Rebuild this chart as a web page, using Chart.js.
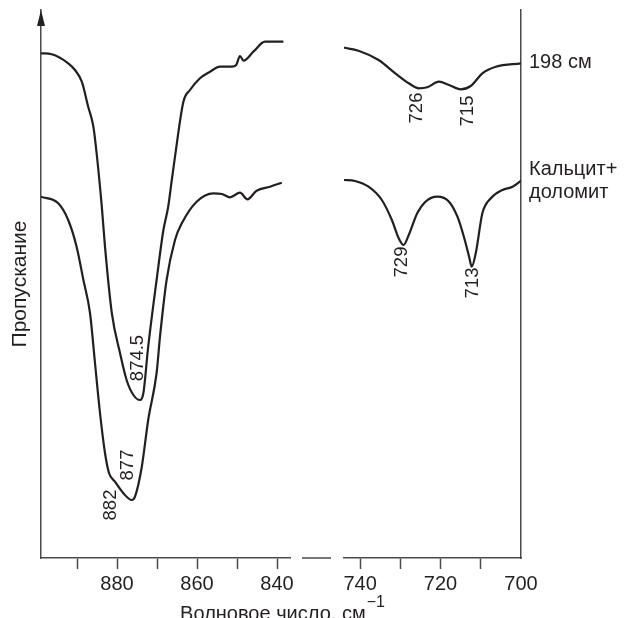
<!DOCTYPE html>
<html><head><meta charset="utf-8">
<script src="https://cdn.jsdelivr.net/npm/chart.js@4.4.1/dist/chart.umd.min.js"></script>
<style>
html,body{margin:0;padding:0;background:#fff;}
#wrap{position:relative;width:624px;height:618px;overflow:hidden;background:#fff;}
#wrap canvas{position:absolute;left:0;top:0;}
</style></head><body>
<div id="wrap">
<canvas id="cA" width="624" height="618" style="width:624px;height:618px"></canvas>
<canvas id="cB" width="624" height="618" style="width:624px;height:618px"></canvas>
</div>
<script>
// ---- data (wavenumber, cm^-1 ; transmittance, arbitrary units) ----
const wn198Left = [899, 896.3, 892.2, 890.5, 888.8, 887.2, 885.9, 885.1, 883.8, 883.0, 881.3, 879.25, 877.6, 875.9, 874.25, 873.4, 872.2, 870.1, 868.4, 867.2, 866.3, 865.5, 863.4, 861.75, 859.25, 856.75, 854.25, 851.3, 850.2, 849.25, 848.4, 845.9, 843.0, 838.4];
const t198Left  = [504.7, 503.7, 494.7, 488, 476.3, 451.3, 431.3, 405, 351.3, 311.3, 245, 205, 178, 163, 158, 165, 211.3, 278, 328, 351.3, 378, 401.3, 456.3, 468, 479.7, 486.3, 491.3, 491.3, 493, 502, 497.3, 506.3, 516.3, 516.3];

const wnMixLeft = [899, 894.7, 892.2, 890.1, 888.4, 886.75, 885.5, 884.25, 883.0, 882.0, 880.5, 878.4, 876.3, 875.5, 873.8, 872.2, 870.1, 869.25, 867.6, 865.5, 863.8, 860.1, 855.9, 853.8, 851.75, 849.25, 847.4, 845.1, 841.75, 838.8];
const tMixLeft  = [361.3, 354.7, 338, 311.3, 278, 245, 195, 145, 105, 85, 76.3, 64.7, 58, 61.3, 91.3, 138, 185, 221.3, 278, 318, 334.7, 356.3, 364.7, 364, 360.7, 365.3, 358.7, 367.3, 371.3, 375.3];

const wn198Right = [744, 740.4, 735.4, 731.25, 727.9, 725.4, 723.3, 720.4, 717.9, 715, 712.5, 709.6, 706.25, 700];
const t198Right  = [510.3, 507.3, 498, 484.7, 474.7, 469.7, 470.7, 476.3, 473, 468.7, 472, 484.7, 491.3, 494.7];

const wnMixRight = [744, 741.25, 737.9, 734.6, 732.1, 730.4, 729.2, 727.9, 725.8, 723.75, 720.8, 717.9, 715.8, 714.2, 712.9, 712.25, 711.25, 709.6, 707.5, 704.6, 702.1, 700];
const tMixRight  = [378, 377, 371.3, 358, 338, 319.7, 313, 323, 344.7, 356.3, 361.3, 356.3, 341.3, 321.3, 301.3, 291.3, 304.7, 344.7, 359.7, 368, 371.3, 377.3];

const leftTicks = [890, 880, 870, 860, 850, 840];
const leftTickLabels = ['', '880', '', '860', '', '840'];
const rightTicks = [740, 730, 720, 710, 700];
const rightTickLabels = ['740', '', '720', '', '700'];

const seriesNames = ['198 см', 'Кальцит+доломит'];
const sideLabel198 = ['198 см'];
const sideLabelMix = ['Кальцит+', 'доломит'];
const yTitle = 'Пропускание';
const xTitle = 'Волновое число, см';
const xTitleSup = '−1';

// peak labels: text, wavenumber, transmittance (label centre)
const peaksLeftText = ['874.5', '877', '882'];
const peaksLeftWn   = [874.75, 877.25, 881.5];
const peaksLeftT    = [200, 93, 53];
const peaksRightText = ['726', '715', '729', '713'];
const peaksRightWn   = [726, 713.2, 729.5, 712];
const peaksRightT    = [450, 447, 296, 275];

// ---- styling ----
const FONT = '"Liberation Sans", Arial, Helvetica, sans-serif';
const INK = '#231f20';
const AXIS = '#4a4a4a';

function pts(xs, ys){ return xs.map((x,i)=>({x:x, y:ys[i]})); }
function ds(label, xs, ys){
  return {label: label, data: pts(xs, ys), borderColor: INK, borderWidth: 2.2,
          pointRadius: 0, cubicInterpolationMode: 'monotone', fill: false};
}

function drawRotated(ctx, text, x, y, size){
  ctx.save();
  ctx.translate(x, y);
  ctx.rotate(-Math.PI/2);
  ctx.font = size + 'px ' + FONT;
  ctx.fillStyle = INK;
  ctx.textAlign = 'center';
  ctx.textBaseline = 'middle';
  ctx.fillText(text, 0, 0);
  ctx.restore();
}

const decorA = {
  id: 'decorA',
  afterDraw(chart){
    const {ctx, chartArea, scales} = chart;
    const xs = scales.x, ys = scales.y;
    // arrow on y axis
    ctx.save();
    ctx.fillStyle = '#222';
    ctx.beginPath();
    ctx.moveTo(chartArea.left, chartArea.top);
    ctx.lineTo(chartArea.left - 4, chartArea.top + 16);
    ctx.lineTo(chartArea.left + 4, chartArea.top + 16);
    ctx.closePath();
    ctx.fill();
    // axis break segment
    ctx.strokeStyle = AXIS;
    ctx.lineWidth = 1.5;
    ctx.beginPath();
    ctx.moveTo(chartArea.right + 12, chartArea.bottom);
    ctx.lineTo(chartArea.right + 41, chartArea.bottom);
    ctx.stroke();
    ctx.restore();
    // peak labels
    peaksLeftText.forEach((t,i)=>{
      drawRotated(ctx, t, xs.getPixelForValue(peaksLeftWn[i]), ys.getPixelForValue(peaksLeftT[i]), 18.5);
    });
    // x title spanning both panels
    ctx.save();
    ctx.fillStyle = INK;
    ctx.textBaseline = 'alphabetic';
    ctx.font = '20px ' + FONT;
    const w1 = ctx.measureText(xTitle).width;
    ctx.font = '16px ' + FONT;
    const w2 = ctx.measureText(xTitleSup).width;
    const cx = 282;
    const x0 = cx - (w1 + w2) / 2;
    const base = chartArea.bottom + 62;
    ctx.font = '20px ' + FONT;
    ctx.textAlign = 'left';
    ctx.fillText(xTitle, x0, base);
    ctx.font = '16px ' + FONT;
    ctx.fillText(xTitleSup, x0 + w1 + 1, base - 13);
    ctx.restore();
  }
};

const decorB = {
  id: 'decorB',
  afterDraw(chart){
    const {ctx, chartArea, scales} = chart;
    const xs = scales.x, ys = scales.y;
    peaksRightText.forEach((t,i)=>{
      drawRotated(ctx, t, xs.getPixelForValue(peaksRightWn[i]), ys.getPixelForValue(peaksRightT[i]), 18.5);
    });
    ctx.save();
    ctx.fillStyle = INK;
    ctx.font = '20px ' + FONT;
    ctx.textAlign = 'left';
    ctx.textBaseline = 'middle';
    const xl = chartArea.right + 8;
    const y1 = ys.getPixelForValue(t198Right[t198Right.length-1]) - 1;
    ctx.fillText(sideLabel198[0], xl, y1);
    const y2 = ys.getPixelForValue(tMixRight[tMixRight.length-1]);
    ctx.fillText(sideLabelMix[0], xl, y2 - 11);
    ctx.fillText(sideLabelMix[1], xl, y2 + 12);
    ctx.restore();
  }
};

const common = {
  responsive: false,
  animation: false,
  events: [],
  plugins: {legend: {display: false}, tooltip: {enabled: false}}
};

function xScale(min, max, ticks, labels){
  return {
    type: 'linear', reverse: true, min: min, max: max,
    afterBuildTicks: s => { s.ticks = ticks.map(v => ({value: v})); },
    afterFit: s => { s.height = 60; },
    ticks: {autoSkip: false, maxRotation: 0, minRotation: 0, padding: 3, color: INK,
            font: {family: FONT, size: 20},
            callback: (v) => { const k = ticks.indexOf(v); return k >= 0 ? labels[k] : ''; }},
    grid: {display: true, drawOnChartArea: false, drawTicks: true, tickLength: 11,
           tickWidth: 1.5,
           tickColor: (c) => (c.tick && c.tick.value === 700) ? 'rgba(0,0,0,0)' : AXIS},
    border: {display: true, color: AXIS, width: 1.5}
  };
}

new Chart(document.getElementById('cA'), {
  type: 'line',
  data: {datasets: [ds(seriesNames[0], wn198Left, t198Left), ds(seriesNames[1], wnMixLeft, tMixLeft)]},
  options: Object.assign({}, common, {
    layout: {padding: {left: 0, right: 334, top: 10, bottom: 0}},
    scales: {
      x: xScale(836.75, 899, leftTicks, leftTickLabels),
      y: {min: 0, max: 548, position: 'left',
          afterFit: s => { s.width = 41; },
          ticks: {display: false}, grid: {display: false},
          border: {display: true, color: AXIS, width: 1.5},
          title: {display: true, text: yTitle, color: INK, font: {family: FONT, size: 21},
                  padding: {top: 8, bottom: 0}}}
    }
  }),
  plugins: [decorA]
});

new Chart(document.getElementById('cB'), {
  type: 'line',
  data: {datasets: [ds(seriesNames[0], wn198Right, t198Right), ds(seriesNames[1], wnMixRight, tMixRight)]},
  options: Object.assign({}, common, {
    layout: {padding: {left: 344, right: 0, top: 10, bottom: 0}},
    scales: {
      x: xScale(700, 744, rightTicks, rightTickLabels),
      y: {min: 0, max: 548, position: 'right',
          afterFit: s => { s.width = 103; },
          ticks: {display: false}, grid: {display: false},
          border: {display: true, color: AXIS, width: 1.5}}
    }
  }),
  plugins: [decorB]
});
</script>
</body></html>
